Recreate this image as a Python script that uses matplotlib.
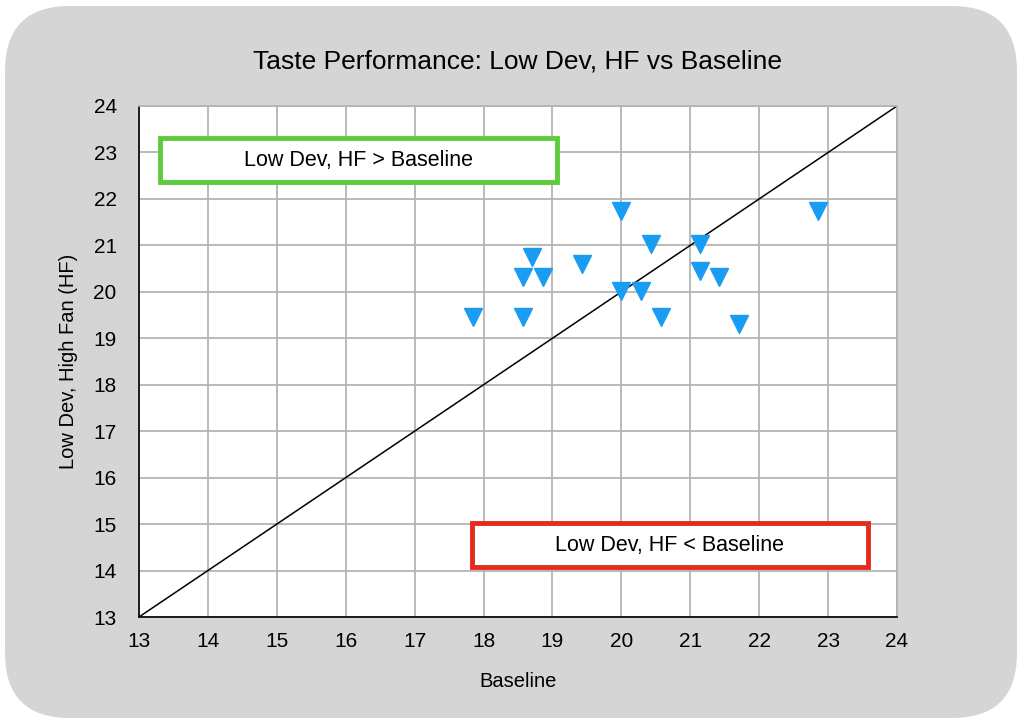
import matplotlib.pyplot as plt
from matplotlib.patches import FancyBboxPatch, Rectangle
from matplotlib.transforms import IdentityTransform

plt.rcParams['font.family'] = ['Liberation Sans', 'DejaVu Sans']

# readings (Baseline vs Low Dev, High Fan)
baseline = [20.0, 22.86, 20.43, 21.14, 18.71, 19.43, 18.57, 18.86,
            21.14, 21.42, 20.0, 20.29, 17.85, 18.57, 20.57, 21.71]
low_dev_hf = [21.75, 21.75, 21.03, 21.03, 20.74, 20.6, 20.31, 20.31,
              20.45, 20.31, 20.02, 20.02, 19.45, 19.45, 19.45, 19.31]
ticks = list(range(13, 25))

fig = plt.figure(figsize=(10.24, 7.23), dpi=100, facecolor='white')

# grey rounded card behind everything
card = FancyBboxPatch((5, 5), 1012, 712, boxstyle='round,pad=0,rounding_size=65',
                      facecolor='#d5d5d5', edgecolor='none', transform=IdentityTransform(), zorder=-10)
fig.patches.append(card)

ax = fig.add_axes([0.1357, 0.1466, 0.7403, 0.7068])
ax.set_zorder(1)
ax.set_facecolor('white')
ax.set_xlim(13, 24)
ax.set_ylim(13, 24)
ax.set_xticks(ticks)
ax.set_yticks(ticks)
ax.grid(True, color='#b4b4b4', linewidth=1.3)
ax.set_axisbelow(True)
ax.tick_params(length=0, labelsize=15)
ax.tick_params(axis='y', pad=16)
ax.tick_params(axis='x', pad=11)

for side in ['top', 'right']:
    ax.spines[side].set_color('#b4b4b4')
    ax.spines[side].set_linewidth(1.3)
for side in ['left', 'bottom']:
    ax.spines[side].set_color('black')
    ax.spines[side].set_linewidth(1.2)

# y = x reference line
ax.plot([13, 24], [13, 24], color='black', linewidth=1.1, zorder=2)

ax.plot(baseline, low_dev_hf, linestyle='none', marker='v', markersize=12.5,
        color='#1a9cf2', zorder=3)

# region labels
ax.add_patch(Rectangle((13.3, 22.36), 5.77, 0.95, facecolor='white',
                       edgecolor='#5ccc3a', linewidth=3.5, zorder=4))
ax.text(16.18, 22.83, 'Low Dev, HF > Baseline', ha='center', va='center',
        fontsize=15.5, zorder=5)
ax.add_patch(Rectangle((17.83, 14.08), 5.75, 0.94, facecolor='white',
                       edgecolor='#e62a1e', linewidth=3.5, zorder=4))
ax.text(20.7, 14.55, 'Low Dev, HF < Baseline', ha='center', va='center',
        fontsize=15.5, zorder=5)

ax.set_title('Taste Performance: Low Dev, HF vs Baseline', fontsize=19, pad=27)
ax.set_xlabel('Baseline', fontsize=14.5, labelpad=15)
ax.set_ylabel('Low Dev, High Fan (HF)', fontsize=14.5, labelpad=11)

fig.savefig('out.png', dpi=100, facecolor='white')
